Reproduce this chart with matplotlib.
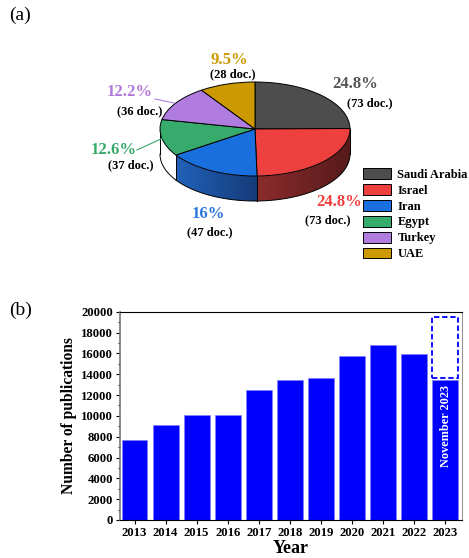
import numpy as np
import matplotlib
matplotlib.use("Agg")
import matplotlib.pyplot as plt
from matplotlib.patches import Polygon, Rectangle

# ---------------- data ----------------
countries = ["Saudi Arabia", "Israel", "Iran", "Egypt", "Turkey", "UAE"]
docs = [73, 73, 47, 37, 36, 28]
pct_labels = ["24.8%", "24.8%", "16%", "12.6%", "12.2%", "9.5%"]
slice_colors = ["#4d4d4d", "#ef4040", "#1a6fdf", "#36ab6b", "#b07ce0", "#cc9900"]
label_colors = ["#555555", "#f04040", "#2a75dc", "#33a868", "#b078dc", "#cc9900"]

years = [2013, 2014, 2015, 2016, 2017, 2018, 2019, 2020, 2021, 2022, 2023]
publications = [7680, 9120, 10080, 10080, 12510, 13470, 13630, 15710, 16800, 15940, 13470]
projected_2023 = 19500
projected_2023_base = 13630

W, H = 469, 558
fig = plt.figure(figsize=(W / 100, H / 100), dpi=100)
serif = ["Liberation Serif", "DejaVu Serif"]

def P(x, y):
    return (x / W, 1 - y / H)

# ---------------- (a) 3D pie ----------------
ax_h_px = 270
axp = fig.add_axes([0, (H - ax_h_px) / H, 1, ax_h_px / H])
cx, cy, rx, ry = 255, 129, 95, 47
wedges, _ = axp.pie(docs, colors=slice_colors, startangle=90, counterclock=False,
                    wedgeprops=dict(edgecolor="black", linewidth=0.7))
axp.set_aspect("auto")
xlim = ((0 - cx) / rx, (W - cx) / rx)
ylim = ((cy - ax_h_px) / ry, cy / ry)
depth = 25 / ry

wall_grad = {1: ((140, 44, 44), (86, 26, 26)),
             2: ((34, 98, 186), (20, 58, 120)),
             3: ((255, 255, 255), (255, 255, 255))}

for i, w in enumerate(wedges):
    t1, t2 = w.theta1, w.theta2
    for lo, hi in [(-180, 0), (180, 360), (-540, -360)]:
        a = max(t1, lo)
        b = min(t2, hi)
        if b <= a:
            continue
        c0, c1 = wall_grad[i]
        th = np.radians(np.linspace(a, b, 120))
        xs, ys = np.cos(th), np.sin(th)
        pts = np.concatenate([np.column_stack([xs, ys]),
                              np.column_stack([xs[::-1], ys[::-1] - depth])])
        poly = Polygon(pts, closed=True, facecolor="none", edgecolor="none")
        axp.add_patch(poly)
        n = 200
        f = np.linspace(0, 1, n)
        grad = np.array([[(c0[j] + (c1[j] - c0[j]) * ff) / 255 for j in range(3)] for ff in f])
        img = axp.imshow(grad[np.newaxis, :, :], extent=(xs.min(), xs.max(),
                         ys.min() - depth, ys.max()), aspect="auto", zorder=0.5,
                         interpolation="bilinear")
        img.set_clip_path(poly)
        axp.plot(xs, ys - depth, color="black", lw=0.7, zorder=0.6)
        for ang in (a, b):
            r = np.radians(ang)
            axp.plot([np.cos(r)] * 2, [np.sin(r), np.sin(r) - depth], color="black",
                     lw=0.7, zorder=0.6)

axp.set_xlim(*xlim)
axp.set_ylim(*ylim)
axp.axis("off")

# labels
pct_pos = [(355, 84), (339, 202), (208, 214), (114, 150), (130, 92), (229, 60)]
doc_pos = [(370, 103), (328, 220), (210, 232), (131, 165), (140, 111), (233, 74)]
for i in range(len(countries)):
    fig.text(*P(*pct_pos[i]), pct_labels[i], color=label_colors[i], family=serif,
             fontweight="bold", fontsize=12, ha="center", va="center")
    fig.text(*P(*doc_pos[i]), f"({docs[i]} doc.)", color="black", family=serif,
             fontweight="bold", fontsize=9, ha="center", va="center")
# leader lines
fig.add_artist(plt.Line2D([P(155, 99)[0], P(174, 103)[0]], [P(155, 99)[1], P(174, 103)[1]],
                          color=slice_colors[4], lw=0.8))
fig.add_artist(plt.Line2D([P(137, 150)[0], P(163, 138)[0]], [P(137, 150)[1], P(163, 138)[1]],
                          color=slice_colors[3], lw=0.8))

leg = axp.legend(wedges, countries, loc="upper left", bbox_to_anchor=P(363, 168),
                 bbox_transform=fig.transFigure, frameon=False, borderpad=0,
                 borderaxespad=0, handlelength=2.2, handleheight=0.95,
                 labelspacing=0.26, handletextpad=0.55,
                 prop=dict(family=serif, weight="bold", size=9))

fig.text(*P(9, 15), "(a)", family=serif, fontsize=14, ha="left", va="center")
fig.text(*P(9, 310), "(b)", family=serif, fontsize=14, ha="left", va="center")

# ---------------- (b) bars ----------------
axb = fig.add_axes([120 / W, (H - 520) / H, (462 - 120) / W, (520 - 311.7) / H])
x = np.arange(len(years))
axb.bar(x, publications, width=0.83, color="#0000ff", edgecolor="#8080ff", linewidth=0.5)
axb.add_patch(Rectangle((x[-1] - 0.415, projected_2023_base), 0.83,
                        projected_2023 - projected_2023_base, fill=False,
                        edgecolor="#0000ff", linestyle=(0, (3, 1.5)), linewidth=1.3))
axb.text(x[-1] + 0.05, 9000, "November 2023", rotation=90, color="white",
         family=serif, fontweight="bold", fontsize=8.8, ha="center", va="center")
axb.set_xlim(-0.47, len(years) - 1 + 0.55)
axb.set_ylim(0, 20000)
axb.set_xticks(x)
axb.set_xticklabels([str(y) for y in years])
axb.set_yticks(np.arange(0, 20001, 2000))
axb.set_yticks(np.arange(1000, 20000, 2000), minor=True)
for lab in axb.get_xticklabels() + axb.get_yticklabels():
    lab.set_family(serif)
    lab.set_fontweight("bold")
    lab.set_fontsize(9.2)
axb.tick_params(axis="both", which="major", direction="out", length=3, width=0.8, pad=2)
axb.tick_params(axis="y", which="minor", direction="out", length=1.8, width=0.8)
axb.tick_params(top=False, right=False)
axb.spines["left"].set_color("#777777")
axb.spines["right"].set_color("#999999")
axb.spines["left"].set_linewidth(1.2)
axb.set_ylabel("Number of publications", family=serif, fontweight="bold", fontsize=11.2,
               labelpad=3)
axb.set_xlabel("Year", family=serif, fontweight="bold", fontsize=13, labelpad=1)

fig.savefig("out.png", dpi=100)
